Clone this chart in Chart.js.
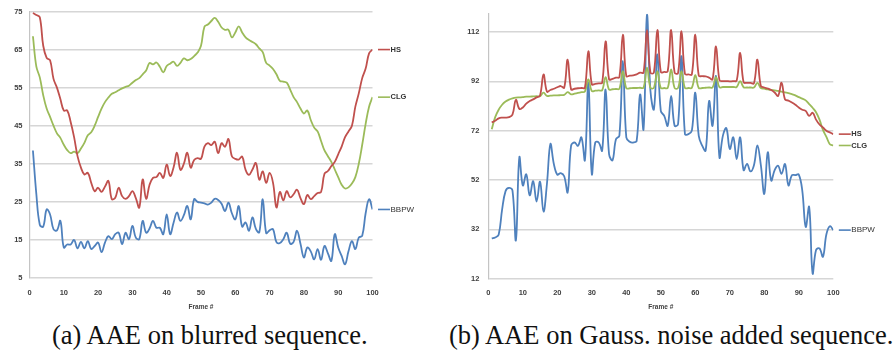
<!DOCTYPE html>
<html>
<head>
<meta charset="utf-8">
<script src="https://cdn.jsdelivr.net/npm/chart.js@4.4.1/dist/chart.umd.min.js"></script>
<style>
  html, body { margin: 0; padding: 0; background: #fff; }
  body { width: 896px; height: 356px; position: relative; overflow: hidden; }
  .panel { position: absolute; top: 0; }
  .caption {
    position: absolute; top: 322px; font-family: "Liberation Serif", serif;
    font-size: 26.5px; line-height: 1; color: #111; white-space: nowrap;
  }
</style>
</head>
<body>
<div class="panel" style="left:0px"><canvas id="chartA" width="440" height="315"></canvas></div>
<div class="panel" style="left:448px"><canvas id="chartB" width="448" height="315"></canvas></div>
<div class="caption" style="left:52px">(a) AAE on blurred sequence.</div>
<div class="caption" style="left:449px">(b) AAE on Gauss. noise added sequence.</div>
<script>
// frame numbers (x categories)
const frames = Array.from({ length: 100 }, (_, i) => i + 1);
const xTicks = [0, 10, 20, 30, 40, 50, 60, 70, 80, 90, 100];

// (a) blurred sequence
const yTicksA = [5, 15, 25, 35, 45, 55, 65, 75];
const hsA = [74.6, 74.1, 73.5, 66, 62.8, 62.2, 57.3, 55, 52, 49,
  49, 46, 42, 37, 34, 32.2, 32.6, 30, 27.8, 28.7,
  27.6, 29, 30.5, 25.7, 26.1, 28.7, 26.5, 25.8, 26.5, 27.8,
  26, 23.5, 30.9, 25.8, 29.5, 31.3, 31.5, 32.6, 31.3, 34.8,
  31.8, 34, 37.9, 33.4, 35, 37.9, 34, 36, 36.5, 36.3,
  39.5, 40.4, 39.9, 40.8, 37.8, 40.4, 39.5, 41.5, 37, 36.3,
  36.1, 36.9, 33.4, 32.1, 33.5, 35.2, 30.8, 33, 30, 32.6,
  30, 23.5, 27.6, 25.4, 27.8, 26.2, 27, 28.2, 26, 24.4,
  26.8, 25.7, 26.5, 27.3, 27.6, 32.4, 33.1, 34.4, 35.5, 37.5,
  39.5, 42, 43.5, 45, 50, 53.5, 57.5, 60, 64, 65];
const clgA = [68.5, 60.5, 57.7, 53, 49.5, 47.3, 45, 43, 41.8, 40,
  38.6, 37.8, 38.2, 37.8, 39, 40.5, 42.5, 43.3, 45, 47.3,
  49.5, 51.2, 52.4, 53.4, 53.8, 54.3, 54.8, 55.2, 55.5, 56.3,
  57, 57.5, 58.5, 59.5, 61.5, 61.1, 61.6, 60.5, 59, 60.7,
  61.3, 61.8, 60.7, 61.5, 62.7, 62.2, 62.5, 63.3, 64.2, 66,
  71, 71.6, 72.5, 73.3, 72.3, 70.8, 70.2, 70.2, 68.2, 69.5,
  71.1, 69.5, 68.2, 67.5, 67, 66.4, 65.3, 64.3, 61.5, 60.8,
  59.9, 58.5, 56.8, 56.6, 56.3, 54.5, 52.5, 51.2, 49.5, 48.2,
  49, 46.5, 44.5, 43.5, 41, 38.5, 37, 35.5, 33.5, 31.5,
  29.5, 28.5, 28.8, 29.8, 31.5, 35, 40, 45.5, 50, 52.5];
const bbpwA = [38.5, 27, 19, 18.5, 23, 21.7, 17.8, 17.5, 20, 13,
  13.8, 13.8, 15, 12.8, 14.5, 12.8, 14.7, 12.6, 13.4, 14.3,
  11.8, 14.3, 16, 15.2, 16.5, 16.9, 13.9, 16.9, 15.2, 18.7,
  15.6, 15.2, 20, 16.9, 18, 20, 18.2, 18.2, 16.5, 21.7,
  16.5, 19.5, 22.2, 20, 21.5, 23.9, 20.4, 25.7, 25, 24.8,
  24.6, 24.3, 24.8, 25.8, 25.5, 24.5, 22.6, 24.8, 22, 20.4,
  23.9, 18.5, 19.6, 17.4, 20.9, 17.9, 17, 25.7, 16.8, 17.5,
  17.8, 14.4, 14.2, 15.2, 16.9, 14, 14.5, 17.4, 14, 10.4,
  13, 12, 9.9, 12.6, 9.8, 13.4, 11.5, 9.5, 16.5, 13,
  10.8, 8.6, 12, 14.7, 12.6, 15.6, 16.1, 22, 25.7, 23];

// (b) gaussian noise sequence
const yTicksB = [12, 32, 52, 72, 92, 112];
const hsB = [75.3, 76, 77, 77.3, 77.3, 77.5, 78.5, 84.5, 80.8, 81.4,
  83, 84, 84.7, 85.5, 86.3, 94.8, 87.8, 88.5, 89, 89.6,
  90.1, 89.4, 100.8, 88.7, 89, 89.2, 89.3, 89.4, 104.2, 90.8,
  91, 91.2, 91.4, 108.2, 92.8, 93, 93.5, 93.7, 110.9, 94.1,
  94.3, 94.4, 94.8, 95.5, 95.5, 112.9, 95.5, 95.5, 112.9, 95.8,
  95.8, 96, 112.9, 95.5, 95.3, 112.3, 95, 94.8, 94.8, 110.9,
  94.3, 94.1, 94, 93.5, 92.8, 106.2, 92.5, 92.1, 92.1, 92,
  92.1, 92.3, 103.5, 91.6, 91.4, 91.4, 91.2, 100.8, 90.1, 89.5,
  89.1, 88.5, 87.5, 86.1, 91.4, 84.7, 84.2, 83.4, 82.5, 81.4,
  80.5, 80, 78, 79.3, 76.5, 74.5, 73.3, 72, 71.3, 70.6];
const clgB = [72.6, 77.5, 80.5, 82.5, 83.8, 84.6, 85.1, 85.4, 85.5, 85.6,
  85.8, 85.8, 85.9, 86, 86, 87.4, 86.1, 86.2, 86.3, 86.3,
  86.4, 86.5, 87.6, 86.7, 87, 87.3, 87.6, 87.9, 92.8, 88.1,
  88.2, 88.3, 88.4, 93.7, 88.7, 88.8, 88.9, 89, 96.1, 89.2,
  89.2, 89.3, 89.3, 89.4, 89.4, 97.5, 89.4, 89.4, 96.1, 89.3,
  89.3, 89.3, 96.8, 89.3, 89.3, 96.1, 89.3, 89.3, 89.4, 94.5,
  89.3, 89.3, 89.4, 89.5, 89.5, 93.7, 89.6, 89.7, 89.7, 89.7,
  89.7, 89.7, 92.1, 89.6, 89.5, 89.5, 89.5, 91.4, 89.3, 89,
  88.7, 88.5, 88.3, 88.1, 87.8, 87.5, 87.2, 86.8, 86.3, 85.6,
  85, 84.3, 82.8, 81.3, 79.5, 76.5, 72.3, 69.5, 66.5, 66];
const bbpwB = [28.3, 28.7, 29.8, 40, 47.5, 48.8, 47.8, 27.6, 61.2, 49.8,
  54.3, 45.8, 51.5, 43.3, 51.3, 39.2, 50.5, 66.6, 58.5, 54.2,
  54.8, 53.5, 47, 65.9, 67.2, 65.9, 69.3, 60.1, 91.4, 54.5,
  67.2, 67.2, 63.9, 88.7, 62.5, 60, 68.5, 70, 100.2, 69.3,
  67.5, 67.2, 67.9, 86.7, 72.6, 119, 88.1, 80.7, 102.9, 80,
  78, 74, 86.1, 74, 74.6, 102.2, 70.6, 70.6, 72, 87.4,
  69.9, 65.9, 63.9, 84, 74, 94.1, 61.2, 70, 73, 64.6,
  69.3, 60.5, 69.3, 56, 58.5, 55.5, 58, 66, 58, 46.4,
  63.2, 51.8, 56, 57.8, 54.5, 58.5, 49.8, 53.9, 54, 54.2,
  47.8, 33, 41.1, 14.2, 23.6, 24.3, 20.9, 30, 33.3, 31.7];

const RED = '#c0504d', GREEN = '#9bbb59', BLUE = '#4f81bd';
const tickFont = { family: 'Liberation Sans', size: 7.5, weight: 'bold' };

// short line + name drawn next to the last point of each series
const endLabels = {
    id: 'endLabels',
    afterDatasetsDraw(chart) {
        const { ctx, chartArea, scales: { y } } = chart;
        chart.data.datasets.forEach(ds => {
            const py = y.getPixelForValue(ds.data[ds.data.length - 1].y);
            const x0 = chartArea.right + 5.5;
            ctx.save();
            ctx.strokeStyle = ds.borderColor;
            ctx.lineWidth = 1.6;
            ctx.beginPath();
            ctx.moveTo(x0, py);
            ctx.lineTo(x0 + 12, py);
            ctx.stroke();
            ctx.fillStyle = '#333';
            ctx.textBaseline = 'middle';
            ctx.font = ds.label === 'BBPW' ? '8px "Liberation Sans"' : 'bold 7.5px "Liberation Sans"';
            ctx.fillText(ds.label, x0 + 12.5, py);
            ctx.restore();
        });
    }
};

function series(label, values, color) {
    return {
        label: label,
        data: values.map((v, i) => ({ x: frames[i], y: v })),
        borderColor: color,
        borderWidth: 1.8,
        pointRadius: 0,
        tension: 0.4,
        fill: false
    };
}

function makeChart(id, datasets, yTicks, yMin, yMax, yWidth, yPad, pad, xHeight) {
    return new Chart(document.getElementById(id), {
        type: 'line',
        data: { datasets: datasets },
        options: {
            responsive: false,
            animation: false,
            layout: { padding: pad },
            plugins: { legend: { display: false }, tooltip: { enabled: false } },
            scales: {
                x: {
                    type: 'linear',
                    min: 0,
                    max: 100,
                    afterBuildTicks: s => { s.ticks = xTicks.map(v => ({ value: v })); },
                    afterFit: s => { s.height = xHeight; },
                    grid: { display: false, drawTicks: false },
                    border: { display: false },
                    ticks: { padding: 10, maxRotation: 0, font: tickFont, color: '#404040' },
                    title: {
                        display: true,
                        text: 'Frame #',
                        color: '#404040',
                        padding: 0,
                        font: { family: 'Liberation Sans', size: 6.5, weight: 'bold' }
                    }
                },
                y: {
                    min: yMin,
                    max: yMax,
                    afterBuildTicks: s => { s.ticks = yTicks.map(v => ({ value: v })); },
                    afterFit: s => { s.width = yWidth; },
                    grid: { color: '#d6d6d6', lineWidth: 1.4, drawTicks: false },
                    border: { display: true, color: '#c4c4c4', width: 1.2 },
                    ticks: { padding: yPad, font: tickFont, color: '#404040' }
                }
            }
        },
        plugins: [endLabels]
    });
}

makeChart('chartA', [
    series('HS', hsA, RED),
    series('CLG', clgA, GREEN),
    series('BBPW', bbpwA, BLUE)
], yTicksA, 5, 75, 29.5, 7, { top: 10, right: 67.5, bottom: 3.8, left: 0 }, 33.2);

makeChart('chartB', [
    series('HS', hsB, RED),
    series('CLG', clgB, GREEN),
    series('BBPW', bbpwB, BLUE)
], yTicksB, 12, 119.5, 40.3, 9, { top: 12, right: 62.7, bottom: 3.8, left: 0 }, 32.5);
</script>
</body>
</html>
